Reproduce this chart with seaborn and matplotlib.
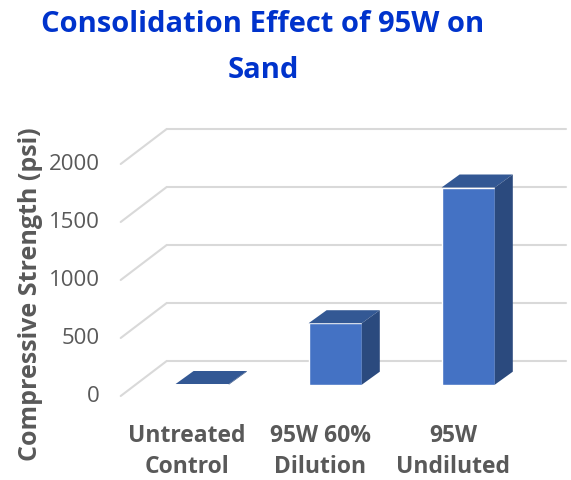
import matplotlib
matplotlib.use('Agg')
import matplotlib.pyplot as plt
import seaborn as sns
from matplotlib.transforms import Affine2D, IdentityTransform
from matplotlib.patches import Polygon
from matplotlib.lines import Line2D

sns.set_style('white')
plt.rcParams['font.family'] = ['Open Sans', 'DejaVu Sans']

categories = ['Untreated\nControl', '95W 60%\nDilution', '95W\nUndiluted']
strength = [6, 530, 1700]
y_ticks = [0, 500, 1000, 1500, 2000]

title = 'Consolidation Effect of 95W on\nSand'
y_label = 'Compressive Strength (psi)'

front_col = '#4472C4'
top_col = '#335894'
side_col = '#2B4A7E'
grid_col = '#D9D9D9'
text_col = '#595959'

# pixel offsets of the fake 3d planes (display coords, y up)
back_dx, back_dy = 31, 23.7
front_dx, front_dy = -15, -11.3
depth_dx, depth_dy = 18, 13

fig = plt.figure(figsize=(5.71, 4.81), dpi=100)
ax = fig.add_axes([135.7 / 571, 95.3 / 481, 399 / 571, 232 / 481])
sns.barplot(x=categories, y=strength, width=0.4, color=front_col, saturation=1, ax=ax, zorder=3)
ax.set_xlim(-0.5, 2.5)
ax.set_ylim(0, 2000)
ax.axis('off')

back = ax.transData + Affine2D().translate(back_dx, back_dy)
for v in y_ticks:
    ax.plot([-0.5, 2.5], [v, v], transform=back, color=grid_col, lw=1.5, clip_on=False, zorder=0)
    px, py = ax.transData.transform((-0.5, v))
    ax.add_line(Line2D([px + front_dx, px + back_dx], [py + front_dy, py + back_dy],
                       transform=IdentityTransform(), color=grid_col, lw=1.5, clip_on=False, zorder=0))
    ax.text(-0.5, v, str(v), transform=ax.transData + Affine2D().translate(front_dx - 21, front_dy),
            ha='right', va='center', fontsize=16, color=text_col)

# top and side faces from the seaborn bars
for p in list(ax.patches):
    x0, y0 = ax.transData.transform((p.get_x(), p.get_y()))
    x1, y1 = ax.transData.transform((p.get_x() + p.get_width(), p.get_y() + p.get_height()))
    top = [(x0, y1), (x1, y1), (x1 + depth_dx, y1 + depth_dy), (x0 + depth_dx, y1 + depth_dy)]
    side = [(x1, y0), (x1 + depth_dx, y0 + depth_dy), (x1 + depth_dx, y1 + depth_dy), (x1, y1)]
    ax.add_patch(Polygon(top, closed=True, transform=IdentityTransform(), facecolor=top_col,
                         edgecolor='none', clip_on=False, zorder=3))
    ax.add_patch(Polygon(side, closed=True, transform=IdentityTransform(), facecolor=side_col,
                         edgecolor='none', clip_on=False, zorder=3))

xlab_tr = ax.get_xaxis_transform() + Affine2D().translate(front_dx, front_dy - 27)
for i, c in enumerate(categories):
    ax.text(i, 0, c, transform=xlab_tr, ha='center', va='top', fontsize=16.5,
            fontweight='bold', color=text_col, linespacing=1.4)

fig.text(31 / 571, 1 - 294 / 481, y_label, rotation=90, ha='center', va='center',
         fontsize=18, fontweight='bold', color=text_col)
fig.text(263 / 571, 1 - 10 / 481, title, ha='center', va='top', fontsize=21, fontweight='bold',
         color='#0033CC', linespacing=1.75)

plt.savefig('out.png', dpi=100)
plt.close()
